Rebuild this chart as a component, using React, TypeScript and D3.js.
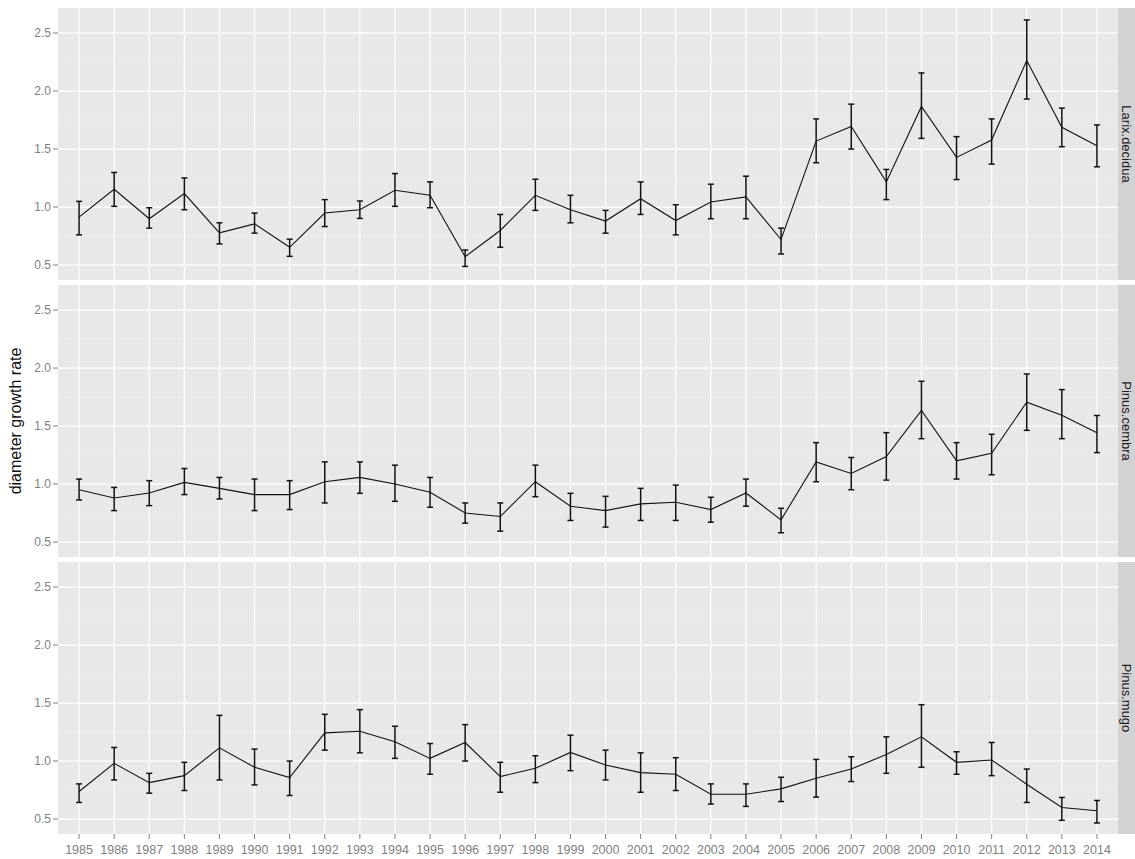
import React, { useEffect, useRef } from "react";
import * as d3 from "d3";

const years = d3.range(1985, 2015);
const species = ["Larix.decidua", "Pinus.cembra", "Pinus.mugo"];
const yTicks = [0.5, 1.0, 1.5, 2.0, 2.5];
const yMinor = [0.75, 1.25, 1.75, 2.25];

const larixMean = [0.913, 1.153, 0.899, 1.116, 0.777, 0.855, 0.653, 0.948, 0.977, 1.145, 1.101, 0.572, 0.798, 1.101, 0.977, 0.879, 1.072, 0.884, 1.043, 1.087, 0.72, 1.569, 1.694, 1.217, 1.867, 1.428, 1.578, 2.263, 1.688, 1.529];
const larixLow = [0.76, 1.006, 0.818, 0.977, 0.682, 0.775, 0.575, 0.832, 0.902, 1.006, 0.994, 0.488, 0.653, 0.971, 0.864, 0.775, 0.936, 0.76, 0.899, 0.899, 0.595, 1.382, 1.5, 1.064, 1.592, 1.237, 1.37, 1.931, 1.52, 1.347];
const larixHigh = [1.049, 1.298, 0.994, 1.251, 0.864, 0.948, 0.723, 1.064, 1.052, 1.289, 1.217, 0.63, 0.936, 1.24, 1.101, 0.971, 1.217, 1.02, 1.197, 1.266, 0.818, 1.76, 1.887, 1.324, 2.156, 1.607, 1.76, 2.613, 1.853, 1.708];

const cembraMean = [0.951, 0.88, 0.923, 1.014, 0.963, 0.909, 0.909, 1.02, 1.057, 1.0, 0.929, 0.751, 0.72, 1.02, 0.809, 0.771, 0.829, 0.843, 0.78, 0.923, 0.691, 1.191, 1.091, 1.237, 1.634, 1.2, 1.266, 1.706, 1.594, 1.443];
const cembraLow = [0.863, 0.771, 0.814, 0.909, 0.871, 0.771, 0.78, 0.837, 0.92, 0.851, 0.8, 0.663, 0.594, 0.891, 0.686, 0.629, 0.686, 0.686, 0.671, 0.809, 0.58, 1.02, 0.951, 1.034, 1.391, 1.043, 1.08, 1.463, 1.391, 1.271];
const cembraHigh = [1.043, 0.971, 1.029, 1.134, 1.057, 1.043, 1.029, 1.191, 1.191, 1.163, 1.057, 0.837, 0.837, 1.163, 0.92, 0.894, 0.963, 0.991, 0.886, 1.043, 0.791, 1.357, 1.229, 1.443, 1.886, 1.357, 1.429, 1.949, 1.814, 1.591];

const mugoMean = [0.737, 0.98, 0.814, 0.874, 1.114, 0.946, 0.857, 1.243, 1.257, 1.166, 1.023, 1.16, 0.866, 0.937, 1.074, 0.966, 0.9, 0.886, 0.714, 0.714, 0.76, 0.851, 0.931, 1.057, 1.209, 0.989, 1.009, 0.8, 0.6, 0.571];
const mugoLow = [0.643, 0.837, 0.723, 0.746, 0.837, 0.794, 0.703, 1.094, 1.071, 1.023, 0.886, 1.0, 0.731, 0.814, 0.917, 0.837, 0.731, 0.746, 0.629, 0.609, 0.651, 0.689, 0.823, 0.894, 0.946, 0.886, 0.874, 0.643, 0.489, 0.466];
const mugoHigh = [0.803, 1.117, 0.894, 0.989, 1.394, 1.103, 1.0, 1.403, 1.443, 1.3, 1.151, 1.314, 0.989, 1.046, 1.223, 1.094, 1.071, 1.029, 0.803, 0.803, 0.86, 1.014, 1.037, 1.209, 1.486, 1.08, 1.16, 0.931, 0.686, 0.66];

const panelsData = [
  { name: species[0], mean: larixMean, low: larixLow, high: larixHigh },
  { name: species[1], mean: cembraMean, low: cembraLow, high: cembraHigh },
  { name: species[2], mean: mugoMean, low: mugoLow, high: mugoHigh },
];

export default function App() {
  const ref = useRef<SVGSVGElement>(null);

  useEffect(() => {
    const svg = d3.select(ref.current);
    svg.selectAll("*").remove();
    const W = 1135, H = 859;
    const left = 58, right = 1118;
    const top0 = 8, ph = 272, gap = 5;
    const stripW = 22;
    const font = "Liberation Sans, Arial, sans-serif";

    const x = d3.scaleLinear().domain([1984.4, 2014.6]).range([left, right]);

    svg.append("rect").attr("width", W).attr("height", H).attr("fill", "#ffffff");

    panelsData.forEach((p, i) => {
      const top = top0 + i * (ph + gap);
      const y = d3.scaleLinear().domain([0.371, 2.716]).range([top + ph, top]);
      const g = svg.append("g");
      g.append("rect").attr("x", left).attr("y", top).attr("width", right - left).attr("height", ph).attr("fill", "#e8e8e8");
      g.selectAll(".minor").data(yMinor).enter().append("line")
        .attr("x1", left).attr("x2", right)
        .attr("y1", (d) => y(d)).attr("y2", (d) => y(d))
        .attr("stroke", "#f0f0f0").attr("stroke-width", 0.6);
      g.selectAll(".hmaj").data(yTicks).enter().append("line")
        .attr("x1", left).attr("x2", right)
        .attr("y1", (d) => y(d)).attr("y2", (d) => y(d))
        .attr("stroke", "#ffffff").attr("stroke-width", 1.2);
      g.selectAll(".vmaj").data(years).enter().append("line")
        .attr("x1", (d) => x(d)).attr("x2", (d) => x(d))
        .attr("y1", top).attr("y2", top + ph)
        .attr("stroke", "#ffffff").attr("stroke-width", 1.2);
      g.selectAll(".yt").data(yTicks).enter().append("line")
        .attr("x1", left - 5).attr("x2", left)
        .attr("y1", (d) => y(d)).attr("y2", (d) => y(d))
        .attr("stroke", "#7f7f7f").attr("stroke-width", 1);
      g.selectAll(".yl").data(yTicks).enter().append("text")
        .attr("x", left - 7).attr("y", (d) => y(d))
        .attr("dy", "0.35em").attr("text-anchor", "end")
        .attr("font-family", font)
        .attr("font-size", 12).attr("fill", "#808080")
        .text((d) => d3.format(".1f")(d));
      g.append("rect").attr("x", right).attr("y", top).attr("width", stripW).attr("height", ph).attr("fill", "#d2d2d2");
      g.append("text")
        .attr("transform", `translate(${right + 9},${top + ph / 2}) rotate(90)`)
        .attr("text-anchor", "middle").attr("dy", "0.35em")
        .attr("font-family", font)
        .attr("font-size", 13).attr("fill", "#1a1a1a")
        .text(p.name);
      const line = d3.line<number>().x((_, j) => x(years[j])).y((d) => y(d));
      g.append("path").datum(p.mean).attr("d", line).attr("fill", "none")
        .attr("stroke", "#111").attr("stroke-width", 1.1);
      const eb = g.selectAll(".eb").data(years).enter().append("g");
      eb.append("line")
        .attr("x1", (d) => x(d)).attr("x2", (d) => x(d))
        .attr("y1", (_, j) => y(p.low[j])).attr("y2", (_, j) => y(p.high[j]))
        .attr("stroke", "#111").attr("stroke-width", 1.5);
      eb.append("line")
        .attr("x1", (d) => x(d) - 3).attr("x2", (d) => x(d) + 3)
        .attr("y1", (_, j) => y(p.low[j])).attr("y2", (_, j) => y(p.low[j]))
        .attr("stroke", "#111").attr("stroke-width", 1.5);
      eb.append("line")
        .attr("x1", (d) => x(d) - 3).attr("x2", (d) => x(d) + 3)
        .attr("y1", (_, j) => y(p.high[j])).attr("y2", (_, j) => y(p.high[j]))
        .attr("stroke", "#111").attr("stroke-width", 1.5);
    });

    const bottom = top0 + 3 * ph + 2 * gap;
    svg.selectAll(".xt").data(years).enter().append("line")
      .attr("x1", (d) => x(d)).attr("x2", (d) => x(d))
      .attr("y1", bottom).attr("y2", bottom + 5)
      .attr("stroke", "#7f7f7f").attr("stroke-width", 1);
    svg.selectAll(".xl").data(years).enter().append("text")
      .attr("x", (d) => x(d)).attr("y", bottom + 20)
      .attr("text-anchor", "middle")
      .attr("font-family", font)
      .attr("font-size", 12.5).attr("fill", "#808080")
      .text((d) => String(d));

    svg.append("text")
      .attr("transform", `translate(21,${top0 + 1.5 * ph + gap}) rotate(-90)`)
      .attr("text-anchor", "middle")
      .attr("font-family", font)
      .attr("font-size", 16).attr("fill", "#111")
      .text("diameter growth rate");
  }, []);

  return (
    <svg
      ref={ref}
      width={1135}
      height={859}
      style={{ position: "absolute", left: 0, top: 0, display: "block" }}
    />
  );
}
